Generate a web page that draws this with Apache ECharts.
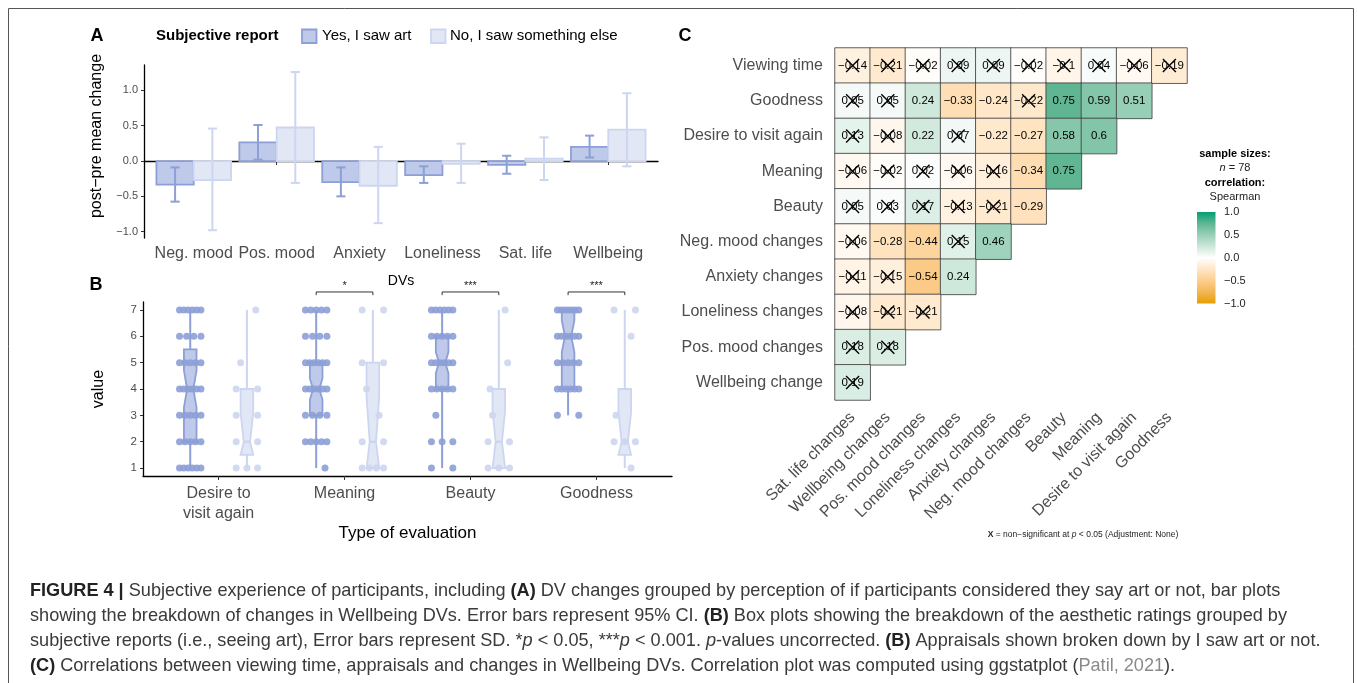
<!DOCTYPE html>
<html><head><meta charset="utf-8">
<script src="https://cdn.jsdelivr.net/npm/echarts@6/dist/echarts.min.js"></script>
<style>html,body{margin:0;padding:0;background:#fff}#main{width:1357px;height:683px}</style>
</head><body><div id="main"></div>
<script>
// ---------- Panel A data (post-pre mean change, 95% CI) ----------
const aCategories = ['Neg. mood','Pos. mood','Anxiety','Loneliness','Sat. life','Wellbeing'];
const aYesMean = [-0.335, 0.265, -0.30, -0.20, -0.055, 0.20];
const aYesLow  = [-0.575, 0.02, -0.50, -0.31, -0.18, 0.05];
const aYesHigh = [-0.09, 0.51, -0.09, -0.075, 0.075, 0.36];
const aNoMean  = [-0.27, 0.475, -0.35, -0.04, 0.035, 0.445];
const aNoLow   = [-0.98, -0.31, -0.88, -0.31, -0.27, -0.075];
const aNoHigh  = [0.46, 1.26, 0.20, 0.245, 0.335, 0.96];
const aYTicks  = [-1, -0.5, 0, 0.5, 1];

// ---------- Panel B data (ratings 1-7) ----------
const bCategories = ['Desire to\nvisit again','Meaning','Beauty','Goodness'];
// [lowWhisker, Q1, median, Q3, highWhisker, notchLow, notchHigh]
const bYesBox = [[1,2,4,5.5,7,3.3,4.7],[1,3,4,5,7,3.6,4.4],[1,4,5,6,7,4.6,5.4],[3,4,6,7,7,5.4,6.6]];
const bNoBox  = [[1,1.5,2,4,7,1.5,3.1],[1,1,2,5,7,1,3.7],[1,1,2,4,7,1,3.2],[1,1.5,2,4,7,1.5,3.1]];
// visible dot counts per rating level 1..7
const bYesCounts = [[6,5,5,6,5,4,6],[1,5,4,6,6,4,5],[2,3,1,5,6,5,6],[0,0,2,6,5,6,7]];
const bNoCounts  = [[3,2,2,2,1,0,1],[4,2,1,1,2,0,2],[3,2,1,1,1,0,1],[1,3,1,0,0,1,2]];
const bYTicks = [1,2,3,4,5,6,7];
const bSigCats = [2,3,4];
const bSigLabels = ['*','***','***'];

// ---------- Panel C data (Spearman correlations) ----------
const cRows = ['Viewing time','Goodness','Desire to visit again','Meaning','Beauty','Neg. mood changes','Anxiety changes','Loneliness changes','Pos. mood changes','Wellbeing change'];
const cCols = ['Sat. life changes','Wellbeing changes','Pos. mood changes','Loneliness changes','Anxiety changes','Neg. mood changes','Beauty','Meaning','Desire to visit again','Goodness'];
const cValues = [
  [-0.14,-0.21,-0.02,0.09,0.09,-0.02,-0.1,0.04,-0.06,-0.19],
  [0.05,0.05,0.24,-0.33,-0.24,-0.22,0.75,0.59,0.51],
  [0.13,-0.08,0.22,0.07,-0.22,-0.27,0.58,0.6],
  [-0.06,-0.02,0.02,-0.06,-0.16,-0.34,0.75],
  [0.05,0.03,0.17,-0.13,-0.21,-0.29],
  [-0.06,-0.28,-0.44,0.15,0.46],
  [-0.11,-0.15,-0.54,0.24],
  [-0.08,-0.21,-0.21],
  [0.18,0.18],
  [0.19]
];
const cNonSig = [
  [1,1,1,1,1,1,1,1,1,1],
  [1,1,0,0,0,1,0,0,0],
  [1,1,0,1,0,0,0,0],
  [1,1,1,1,1,0,0],
  [1,1,1,1,1,0],
  [1,0,0,1,0],
  [1,1,0,0],
  [1,1,1],
  [1,1],
  [1]
];
const cLegendTicks = [1, 0.5, 0, -0.5, -1];

// ---------- styles ----------
const FONT = "'Liberation Sans', Arial, Helvetica, sans-serif";
const YES_FILL = '#bfc9e9', YES_STROKE = '#8c9fd6';
const NO_FILL = '#e2e7f5', NO_STROKE = '#cdd6f0';
const GRAY = '#4d4d4d';
// diverging orange-white-green palette sampled in Lab space
const DIV_COLORS = ['#E69F00','#F3B656','#FCCE8F','#FFE6C6','#FFFFFF','#CCE7DA','#98CFB7','#60B693','#009E73'];
const DODGE_A = 0.225, BAR_W = 0.45, CAP = 0.055;
const DODGE_B = 0.225, BOX_W = 0.1, JW = 0.085;
const SINGLE_OFF = [-0.07, 0.07, 0.0, 0.05, -0.05];
const minus = s => String(s).replace('-', '\u2212');

function barItem(side, fill, stroke) {
  return function (params, api) {
    const x = api.value(0), v = api.value(1);
    const x0 = side < 0 ? x - BAR_W : x, x1 = side < 0 ? x : x + BAR_W;
    const p0 = api.coord([x0, 0]), p1 = api.coord([x1, v]);
    return { type: 'rect', shape: { x: p0[0], y: Math.min(p0[1], p1[1]), width: p1[0] - p0[0], height: Math.abs(p1[1] - p0[1]) },
      style: { fill: fill, stroke: stroke, lineWidth: 1.8 } };
  };
}
function errItem(side, stroke) {
  return function (params, api) {
    const x = api.value(0) + side * DODGE_A;
    const lo = api.coord([x, api.value(1)]), hi = api.coord([x, api.value(2)]);
    const cl = api.coord([x - CAP, 0])[0], cr = api.coord([x + CAP, 0])[0];
    const st = { stroke: stroke, lineWidth: 2 };
    return { type: 'group', children: [
      { type: 'line', shape: { x1: lo[0], y1: lo[1], x2: hi[0], y2: hi[1] }, style: st },
      { type: 'line', shape: { x1: cl, y1: lo[1], x2: cr, y2: lo[1] }, style: st },
      { type: 'line', shape: { x1: cl, y1: hi[1], x2: cr, y2: hi[1] }, style: st }
    ] };
  };
}
function boxItem(side, fill, stroke) {
  return function (params, api) {
    const x = api.value(0) + side * DODGE_B;
    const lo = api.value(1), q1 = api.value(2), med = api.value(3), q3 = api.value(4), hi = api.value(5), nlo = api.value(6), nhi = api.value(7);
    const hw = BOX_W / 2, ind = hw * 0.5;
    const P = (xx, yy) => api.coord([xx, yy]);
    const st = { stroke: stroke, lineWidth: 2 };
    const pts = [P(x-hw,q3),P(x-hw,nhi),P(x-hw+ind,med),P(x-hw,nlo),P(x-hw,q1),P(x+hw,q1),P(x+hw,nlo),P(x+hw-ind,med),P(x+hw,nhi),P(x+hw,q3)];
    const c = P(x, 0)[0];
    return { type: 'group', children: [
      { type: 'line', shape: { x1: c, y1: P(x,q3)[1], x2: c, y2: P(x,hi)[1] }, style: st },
      { type: 'line', shape: { x1: c, y1: P(x,q1)[1], x2: c, y2: P(x,lo)[1] }, style: st },
      { type: 'polygon', shape: { points: pts }, style: { fill: fill, stroke: stroke, lineWidth: 1.8 } },
      { type: 'line', shape: { x1: P(x-hw+ind,med)[0], y1: P(x,med)[1], x2: P(x+hw-ind,med)[0], y2: P(x,med)[1] }, style: { stroke: stroke, lineWidth: 2.5 } }
    ] };
  };
}
function dots(countsList, side) {
  const pts = [];
  countsList.forEach((counts, ci) => {
    counts.forEach((n, li) => {
      for (let k = 0; k < n; k++) {
        const off = n === 1 ? SINGLE_OFF[(ci + li) % SINGLE_OFF.length] : -JW + 2 * JW * k / (n - 1);
        pts.push([ci + 1 + side * DODGE_B + off, li + 1]);
      }
    });
  });
  return pts;
}
const fmtCorr = v => { const a = Math.round(Math.abs(v) * 100) / 100; return (v < 0 ? '\u2212' : '') + String(a); };

const heatData = [], xData = [];
cValues.forEach((row, r) => row.forEach((v, c) => {
  heatData.push([c, r, v]);
  if (cNonSig[r][c]) xData.push([c, r]);
}));

// ---------- caption ----------
const capLines = [
  [['FIGURE 4 |','b'],[' Subjective experience of participants, including ',''],['(A)','b'],[' DV changes grouped by perception of if participants considered they say art or not, bar plots','']],
  [['showing the breakdown of changes in Wellbeing DVs. Error bars represent 95% CI. ',''],['(B)','b'],[' Box plots showing the breakdown of the aesthetic ratings grouped by','']],
  [['subjective reports (i.e., seeing art), Error bars represent SD. *',''],['p','i'],[' < 0.05, ***',''],['p','i'],[' < 0.001. ',''],['p','i'],['-values uncorrected. ',''],['(B)','b'],[' Appraisals shown broken down by I saw art or not.','']],
  [['(C)','b'],[' Correlations between viewing time, appraisals and changes in Wellbeing DVs. Correlation plot was computed using ggstatplot (',''],['Patil, 2021','g'],[').','']]
];
const ctx = document.createElement('canvas').getContext('2d');
function segFont(k, fs) { return (k === 'i' ? 'italic ' : '') + (k === 'b' ? 'bold ' : '') + fs + 'px ' + FONT; }
function measure(segs, fs) { let w = 0; segs.forEach(([t, k]) => { ctx.font = segFont(k, fs); w += ctx.measureText(t).width; }); return w; }
const capFs = 16 * 1292 / measure(capLines[2], 16);
const capRich = {
  n: { fontSize: capFs, fontFamily: FONT, fill: '#3a3a3a' },
  b: { fontSize: capFs, fontFamily: FONT, fontWeight: 'bold', fill: '#222' },
  i: { fontSize: capFs, fontFamily: FONT, fontStyle: 'italic', fill: '#3a3a3a' },
  g: { fontSize: capFs, fontFamily: FONT, fill: '#8a8a8a' }
};
const capY = [591, 616, 641, 666];
const captionGraphics = capLines.map((segs, i) => ({
  type: 'text', x: 30, y: capY[i],
  style: { text: segs.map(([t, k]) => '{' + (k || 'n') + '|' + t + '}').join(''), rich: capRich, fontSize: capFs, fontFamily: FONT, verticalAlign: 'middle', align: 'left' }
}));

const t = (x, y, text, o) => Object.assign({ type: 'text', x: x, y: y, style: Object.assign({ text: text, fontFamily: FONT, fill: '#000', fontSize: 11, align: 'center', verticalAlign: 'middle' }, o || {}) });

const option = {
  animation: false,
  textStyle: { fontFamily: FONT },
  grid: [
    { left: 144, top: 65, width: 514, height: 173 },
    { left: 143, top: 302, width: 529, height: 174 },
    { left: 835, top: 48, width: 352, height: 352 }
  ],
  xAxis: [
    { type: 'value', gridIndex: 0, min: 0.4, max: 6.6, splitLine: { show: false },
      axisLine: { lineStyle: { color: '#000', width: 1.3 } },
      axisTick: { customValues: [1,2,3,4,5,6], length: 4, lineStyle: { color: '#333' } },
      axisLabel: { customValues: [1,2,3,4,5,6], formatter: v => aCategories[Math.round(v) - 1], fontSize: 16, color: GRAY, margin: 8 },
      name: 'DVs', nameLocation: 'middle', nameGap: 36, nameTextStyle: { fontSize: 14, color: '#000' } },
    { type: 'value', gridIndex: 1, min: 0.4, max: 4.6, splitLine: { show: false },
      axisLine: { lineStyle: { color: '#000', width: 1.3 } },
      axisTick: { customValues: [1,2,3,4], length: 4, lineStyle: { color: '#333' } },
      axisLabel: { customValues: [1,2,3,4], formatter: v => bCategories[Math.round(v) - 1], fontSize: 16, lineHeight: 20, color: GRAY, margin: 8 },
      name: 'Type of evaluation', nameLocation: 'middle', nameGap: 40, nameTextStyle: { fontSize: 17, color: '#000' } },
    { type: 'category', gridIndex: 2, data: cCols, axisLine: { show: false },
      axisTick: { length: 3, alignWithLabel: true, lineStyle: { color: '#333' } },
      axisLabel: { rotate: 45, interval: 0, fontSize: 16, color: GRAY, margin: 15 }, splitLine: { show: false } }
  ],
  yAxis: [
    { type: 'value', gridIndex: 0, min: -1.09, max: 1.36, splitLine: { show: false },
      axisLine: { show: true, lineStyle: { color: '#000', width: 1.3 } },
      axisTick: { show: true, customValues: aYTicks, length: 3, lineStyle: { color: '#333' } },
      axisLabel: { customValues: aYTicks, formatter: v => minus(v.toFixed(1)), fontSize: 11, color: GRAY, margin: 6 } },
    { type: 'value', gridIndex: 1, min: 0.7, max: 7.3, splitLine: { show: false },
      axisLine: { show: true, lineStyle: { color: '#000', width: 1.3 } },
      axisTick: { show: true, customValues: bYTicks, length: 3, lineStyle: { color: '#333' } },
      axisLabel: { customValues: bYTicks, fontSize: 11.5, color: GRAY, margin: 6 },
      name: 'value', nameLocation: 'middle', nameGap: 36, nameTextStyle: { fontSize: 16, color: '#000' } },
    { type: 'category', gridIndex: 2, data: cRows, inverse: true, axisLine: { show: false },
      axisTick: { length: 3, alignWithLabel: true, lineStyle: { color: '#333' } },
      axisLabel: { fontSize: 16, color: GRAY, margin: 12 }, splitLine: { show: false } }
  ],
  visualMap: { type: 'continuous', show: false, min: -1, max: 1, dimension: 2, seriesIndex: 9,
    inRange: { color: DIV_COLORS } },
  series: [
    { type: 'custom', name: 'Yes, I saw art', xAxisIndex: 0, yAxisIndex: 0, data: aYesMean.map((v, i) => [i + 1, v]), renderItem: barItem(-1, YES_FILL, YES_STROKE) },
    { type: 'custom', name: 'No, I saw something else', xAxisIndex: 0, yAxisIndex: 0, data: aNoMean.map((v, i) => [i + 1, v]), renderItem: barItem(1, NO_FILL, NO_STROKE) },
    { type: 'custom', xAxisIndex: 0, yAxisIndex: 0, data: aYesLow.map((v, i) => [i + 1, v, aYesHigh[i]]), renderItem: errItem(-1, YES_STROKE) },
    { type: 'custom', xAxisIndex: 0, yAxisIndex: 0, data: aNoLow.map((v, i) => [i + 1, v, aNoHigh[i]]), renderItem: errItem(1, NO_STROKE) },
    { type: 'custom', xAxisIndex: 1, yAxisIndex: 1, data: bYesBox.map((b, i) => [i + 1].concat(b)), renderItem: boxItem(-1, YES_FILL, YES_STROKE) },
    { type: 'custom', xAxisIndex: 1, yAxisIndex: 1, data: bNoBox.map((b, i) => [i + 1].concat(b)), renderItem: boxItem(1, NO_FILL, NO_STROKE) },
    { type: 'scatter', xAxisIndex: 1, yAxisIndex: 1, data: dots(bYesCounts, -1), symbolSize: 7, itemStyle: { color: YES_STROKE, opacity: 0.9 } },
    { type: 'scatter', xAxisIndex: 1, yAxisIndex: 1, data: dots(bNoCounts, 1), symbolSize: 7, itemStyle: { color: NO_STROKE, opacity: 0.9 } },
    { type: 'custom', xAxisIndex: 1, yAxisIndex: 1, data: bSigCats.map((c, i) => [c, i]),
      renderItem: function (params, api) {
        const c = api.value(0), lab = bSigLabels[api.value(1)];
        const l = api.coord([c - DODGE_B, 7.68]), r = api.coord([c + DODGE_B, 7.68]);
        const tip = api.coord([c, 7.56])[1], ty = api.coord([c, 7.9])[1];
        return { type: 'group', children: [
          { type: 'polyline', shape: { points: [[l[0], tip], l, r, [r[0], tip]] }, style: { stroke: '#333', lineWidth: 1, fill: null } },
          { type: 'text', x: (l[0] + r[0]) / 2, y: ty, style: { text: lab, fontSize: 11, fontFamily: FONT, fill: '#222', align: 'center', verticalAlign: 'middle' } }
        ] };
      } },
    { type: 'heatmap', xAxisIndex: 2, yAxisIndex: 2, data: heatData,
      label: { show: true, formatter: p => fmtCorr(p.value[2]), color: '#000', fontSize: 11.5 },
      itemStyle: { borderColor: '#3a3a3a', borderWidth: 0.8 }, emphasis: { disabled: true } },
    { type: 'custom', xAxisIndex: 2, yAxisIndex: 2, data: xData,
      renderItem: function (params, api) {
        const p = api.coord([api.value(0), api.value(1)]), s = 6.5;
        const st = { stroke: '#000', lineWidth: 1.4 };
        return { type: 'group', children: [
          { type: 'line', shape: { x1: p[0] - s, y1: p[1] - s, x2: p[0] + s, y2: p[1] + s }, style: st },
          { type: 'line', shape: { x1: p[0] - s, y1: p[1] + s, x2: p[0] + s, y2: p[1] - s }, style: st }
        ] };
      } }
  ],
  graphic: [
    { type: 'rect', shape: { x: 8.5, y: 8.5, width: 1345, height: 720 }, style: { fill: null, stroke: '#555', lineWidth: 1 }, silent: true },
    t(97, 36, 'A', { fontSize: 18, fontWeight: 'bold' }),
    t(96, 285, 'B', { fontSize: 18, fontWeight: 'bold' }),
    t(685, 36, 'C', { fontSize: 18, fontWeight: 'bold' }),
    t(156, 36, 'Subjective report', { fontSize: 15, fontWeight: 'bold', align: 'left' }),
    { type: 'rect', shape: { x: 302, y: 29.5, width: 14.5, height: 13.5 }, style: { fill: YES_FILL, stroke: YES_STROKE, lineWidth: 1.8 } },
    t(322, 36, 'Yes, I saw art', { fontSize: 15, align: 'left' }),
    { type: 'rect', shape: { x: 431, y: 29.5, width: 14.5, height: 13.5 }, style: { fill: NO_FILL, stroke: NO_STROKE, lineWidth: 1.8 } },
    t(450, 36, 'No, I saw something else', { fontSize: 15, align: 'left' }),
    Object.assign(t(97, 136, 'post\u2212pre mean change', { fontSize: 16 }), { rotation: Math.PI / 2 }),
    t(1235, 154, 'sample sizes:', { fontWeight: 'bold' }),
    t(1235, 167.5, '{i|n} = 78', { rich: { i: { fontStyle: 'italic', fontSize: 11, fontFamily: FONT } }, fill: '#222' }),
    t(1235, 183, 'correlation:', { fontWeight: 'bold' }),
    t(1235, 196.5, 'Spearman', { fill: '#222' }),
    { type: 'rect', shape: { x: 1197, y: 212, width: 18.5, height: 91.5 },
      style: { fill: new echarts.graphic.LinearGradient(0, 0, 0, 1, DIV_COLORS.slice().reverse().map((c, i, a) => ({ offset: i / (a.length - 1), color: c }))) } },
    ...cLegendTicks.map(v => t(1224, 212 + (1 - v) / 2 * 91.5, minus(v.toFixed(1)), { align: 'left', fill: '#222' })),
    t(1083, 535, '{b|X} = non\u2212significant at {i|p} < 0.05 (Adjustment: None)',
      { fontSize: 8.5, fill: '#222', rich: { b: { fontWeight: 'bold', fontSize: 8.5, fontFamily: FONT }, i: { fontStyle: 'italic', fontSize: 8.5, fontFamily: FONT } } }),
    ...captionGraphics
  ]
};
const chart = echarts.init(document.getElementById('main'), null, { renderer: 'canvas' });
chart.setOption(option);
</script></body></html>
